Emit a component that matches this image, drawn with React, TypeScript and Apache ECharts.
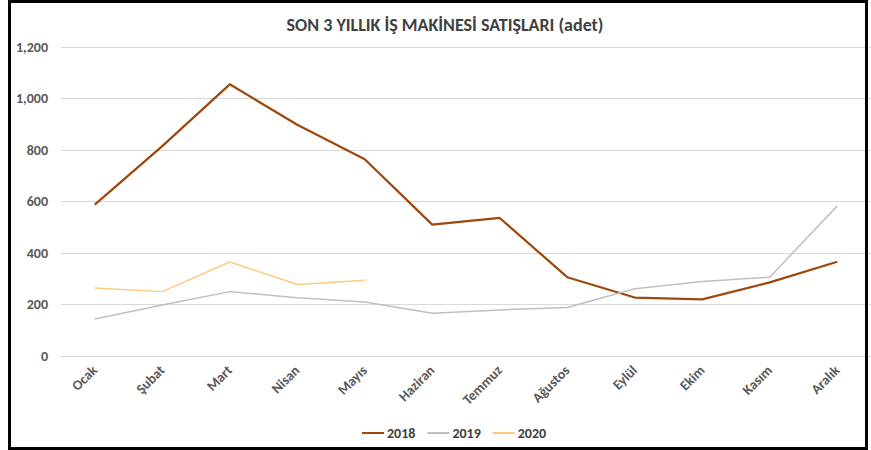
import React, { useEffect, useRef } from "react";
import * as echarts from "echarts";

const months = ["Ocak", "Şubat", "Mart", "Nisan", "Mayıs", "Haziran", "Temmuz", "Ağustos", "Eylül", "Ekim", "Kasım", "Aralık"];
const sales2018 = [588, 815, 1055, 898, 764, 510, 536, 306, 227, 220, 286, 366];
const sales2019 = [144, 198, 250, 226, 210, 166, 179, 188, 261, 289, 306, 583];
const sales2020 = [264, 250, 365, 278, 294];
const titleText = "SON 3 YILLIK İŞ MAKİNESİ SATIŞLARI (adet)";

const FONT = "Carlito, 'Liberation Sans Narrow', 'DejaVu Sans Condensed', 'Liberation Sans', sans-serif";

export default function App() {
  const ref = useRef<HTMLDivElement>(null);
  useEffect(() => {
    if (!ref.current) return;
    const chart = echarts.init(ref.current, undefined, { renderer: "svg" });
    chart.setOption({
      animation: false,
      backgroundColor: "#ffffff",
      title: {
        text: titleText,
        left: 440,
        textAlign: "center",
        top: 11,
        textStyle: { fontFamily: FONT, fontSize: 18, fontWeight: "bold", color: "#404040" },
      },
      legend: {
        left: 362,
        top: 426,
        padding: 0,
        icon: "rect",
        itemWidth: 22,
        itemHeight: 2,
        itemGap: 12,
        textStyle: { fontFamily: FONT, fontSize: 14, fontWeight: "bold", color: "#404040", padding: [0, 0, 0, -2] },
        data: ["2018", "2019", "2020"],
      },
      grid: { left: 61, top: 47, width: 814, height: 309, containLabel: false },
      xAxis: {
        type: "category",
        data: months,
        boundaryGap: true,
        axisLine: { show: true, lineStyle: { color: "#d9d9d9", width: 1 } },
        axisTick: { show: false },
        axisLabel: {
          rotate: 45,
          margin: 12,
          interval: 0,
          fontFamily: FONT,
          fontSize: 14,
          fontWeight: "bold",
          color: "#595959",
        },
      },
      yAxis: {
        type: "value",
        min: 0,
        max: 1200,
        interval: 200,
        axisLine: { show: false },
        axisTick: { show: false },
        splitLine: { lineStyle: { color: "#d9d9d9", width: 1 } },
        axisLabel: {
          margin: 13,
          fontFamily: FONT,
          fontSize: 14,
          fontWeight: "bold",
          color: "#595959",
          formatter: (v: number) => v.toLocaleString("en-US"),
        },
      },
      series: [
        {
          name: "2018",
          type: "line",
          data: sales2018,
          symbol: "none",
          lineStyle: { color: "#9E480E", width: 2.25 },
          itemStyle: { color: "#9E480E" },
        },
        {
          name: "2019",
          type: "line",
          data: sales2019,
          symbol: "none",
          lineStyle: { color: "#BFBFBF", width: 1.5 },
          itemStyle: { color: "#BFBFBF" },
        },
        {
          name: "2020",
          type: "line",
          data: sales2020,
          symbol: "none",
          lineStyle: { color: "#FFCA80", width: 1.5 },
          itemStyle: { color: "#FFCA80" },
        },
      ],
      graphic: [
        {
          type: "rect",
          z: 100,
          shape: { x: 9.5, y: 1.5, width: 857, height: 447 },
          style: { fill: "none", stroke: "#000000", lineWidth: 3 },
        },
      ],
    });
    return () => chart.dispose();
  }, []);
  return (
    <div style={{ position: "fixed", left: 0, top: 0, width: 871, height: 450 }}>
      <div ref={ref} style={{ width: 871, height: 450 }} />
    </div>
  );
}
